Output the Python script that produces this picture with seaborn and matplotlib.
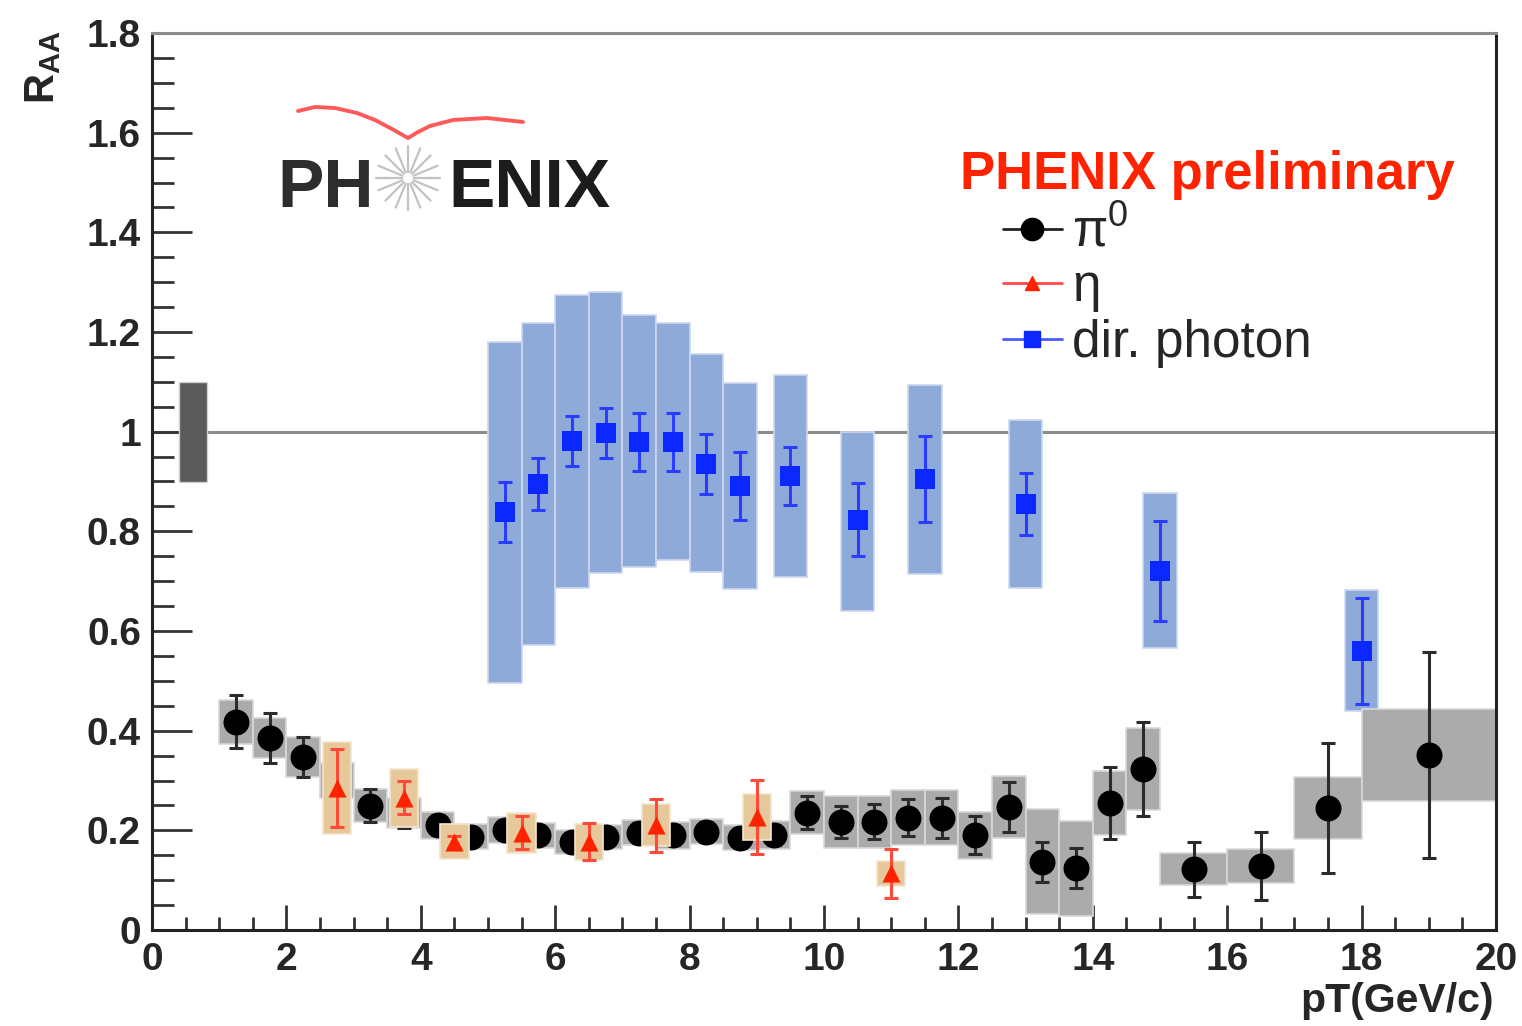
import numpy as np
import pandas as pd
import matplotlib
matplotlib.use('Agg')
import matplotlib.pyplot as plt
from matplotlib.lines import Line2D
from matplotlib.ticker import MultipleLocator, FuncFormatter
import seaborn as sns

# --- pi0 R_AA
pi0_pt = [1.25, 1.75, 2.25, 2.75, 3.25, 3.75, 4.25, 4.75, 5.25, 5.75, 6.25, 6.75,
          7.25, 7.75, 8.25, 8.75, 9.25, 9.75, 10.25, 10.75, 11.25, 11.75, 12.25,
          12.75, 13.25, 13.75, 14.25, 14.75, 15.5, 16.5, 17.5, 19.0]
pi0_raa = [0.418, 0.385, 0.347, 0.300, 0.249, 0.235, 0.210, 0.187, 0.200, 0.190,
           0.177, 0.187, 0.195, 0.190, 0.197, 0.185, 0.190, 0.235, 0.217, 0.217,
           0.225, 0.225, 0.190, 0.247, 0.137, 0.124, 0.255, 0.323, 0.122, 0.128,
           0.245, 0.351]
pi0_stat = [0.053, 0.050, 0.040, 0.035, 0.033, 0.030, 0.020, 0.018, 0.020, 0.018,
            0.018, 0.018, 0.020, 0.020, 0.020, 0.020, 0.020, 0.033, 0.032, 0.035,
            0.037, 0.040, 0.038, 0.050, 0.040, 0.040, 0.073, 0.095, 0.055, 0.068,
            0.130, 0.207]
pi0_sys = [0.044, 0.040, 0.040, 0.036, 0.033, 0.030, 0.027, 0.025, 0.026, 0.025,
           0.024, 0.024, 0.025, 0.027, 0.025, 0.025, 0.028, 0.043, 0.052, 0.052,
           0.055, 0.055, 0.047, 0.062, 0.105, 0.095, 0.065, 0.082, 0.032, 0.034,
           0.063, 0.092]
pi0_binw = [0.5] * 28 + [1.0, 1.0, 1.0, 2.0]

# --- eta R_AA
eta_pt = [2.75, 3.75, 4.5, 5.5, 6.5, 7.5, 9.0, 11.0]
eta_raa = [0.285, 0.265, 0.177, 0.195, 0.177, 0.210, 0.227, 0.114]
eta_stat = [0.078, 0.033, 0.012, 0.033, 0.037, 0.053, 0.074, 0.049]
eta_sys = [0.093, 0.059, 0.035, 0.040, 0.036, 0.042, 0.046, 0.025]

# --- direct photon R_AA
gam_pt = [5.25, 5.75, 6.25, 6.75, 7.25, 7.75, 8.25, 8.75, 9.5, 10.5, 11.5, 13.0, 15.0, 18.0]
gam_raa = [0.839, 0.895, 0.981, 0.997, 0.980, 0.980, 0.935, 0.891, 0.911, 0.823,
           0.905, 0.855, 0.720, 0.560]
gam_stat = [0.060, 0.053, 0.050, 0.050, 0.058, 0.058, 0.060, 0.068, 0.058, 0.073,
            0.086, 0.063, 0.100, 0.106]
gam_sys_hi = [1.180, 1.218, 1.274, 1.280, 1.234, 1.218, 1.156, 1.098, 1.114, 1.000,
              1.094, 1.024, 0.877, 0.682]
gam_sys_lo = [0.496, 0.572, 0.686, 0.716, 0.729, 0.742, 0.718, 0.684, 0.708, 0.640,
              0.714, 0.686, 0.566, 0.440]

# normalisation uncertainty box at R_AA = 1
norm_pt, norm_halfw, norm_unc = 0.61, 0.21, 0.1

sns.set_style('ticks')
plt.rcParams['font.family'] = ['Liberation Sans', 'DejaVu Sans']
plt.rcParams['font.weight'] = 'bold'
plt.rcParams['mathtext.fontset'] = 'custom'
plt.rcParams['mathtext.rm'] = 'Liberation Sans:regular'
plt.rcParams['mathtext.it'] = 'Liberation Sans:italic:regular'
plt.rcParams['mathtext.bf'] = 'Liberation Sans:bold'

W, H = 1522, 1026
fig = plt.figure(figsize=(W / 100, H / 100), dpi=100)
ax = fig.add_axes([152 / W, 1 - 930 / H, (1496 - 152) / W, (930 - 33) / H])

pi0 = pd.DataFrame({'pt': pi0_pt, 'raa': pi0_raa, 'stat': pi0_stat, 'sys': pi0_sys, 'w': pi0_binw})
eta = pd.DataFrame({'pt': eta_pt, 'raa': eta_raa, 'stat': eta_stat, 'sys': eta_sys})
gam = pd.DataFrame({'pt': gam_pt, 'raa': gam_raa, 'stat': gam_stat, 'hi': gam_sys_hi, 'lo': gam_sys_lo})

ax.axhline(1.0, color='#8c8c8c', lw=2.2, zorder=0.5)
ax.bar([norm_pt], [2 * norm_unc], bottom=[1 - norm_unc], width=2 * norm_halfw,
       color='#5a5a5a', edgecolor='#d0d0d0', lw=1, zorder=1)

# direct photon
ax.bar(gam['pt'], gam['hi'] - gam['lo'], bottom=gam['lo'], width=0.5,
       color='#8eaad8', edgecolor='#cdd8ef', lw=1.2, zorder=1.5)
ax.errorbar(gam['pt'], gam['raa'], yerr=gam['stat'], fmt='none', ecolor='#2a3cff',
            elinewidth=2.2, capsize=4.7, capthick=2.2, zorder=3)
sns.scatterplot(data=gam, x='pt', y='raa', marker='s', s=210, color='#0a28ff',
                linewidth=0, zorder=3.5, ax=ax, legend=False)

# pi0
ax.bar(pi0['pt'], 2 * pi0['sys'], bottom=pi0['raa'] - pi0['sys'], width=pi0['w'],
       color='#ababab', edgecolor='#d8d8d8', lw=1.2, zorder=2)
ax.errorbar(pi0['pt'], pi0['raa'], yerr=pi0['stat'], fmt='none', ecolor='#2b2b2b',
            elinewidth=2.2, capsize=4.7, capthick=2.2, zorder=4)
sns.scatterplot(data=pi0, x='pt', y='raa', marker='o', s=350, color='black',
                linewidth=0, zorder=5, ax=ax, legend=False)

# eta
ax.bar(eta['pt'], 2 * eta['sys'], bottom=eta['raa'] - eta['sys'], width=0.42,
       color='#e6c89b', edgecolor='#f5e6cf', lw=1.2, zorder=6)
ax.errorbar(eta['pt'], eta['raa'], yerr=eta['stat'], fmt='none', ecolor='#ff4a3a',
            elinewidth=2.2, capsize=4.7, capthick=2.2, zorder=7)
sns.scatterplot(data=eta, x='pt', y='raa', marker='^', s=170, color='#ff2200',
                linewidth=0, zorder=8, ax=ax, legend=False)

# axes styling (ROOT like)
ax.set_xlim(0, 20)
ax.set_ylim(0, 1.8)
ax.xaxis.set_major_locator(MultipleLocator(2))
ax.xaxis.set_minor_locator(MultipleLocator(0.5))
ax.yaxis.set_major_locator(MultipleLocator(0.2))
ax.yaxis.set_minor_locator(MultipleLocator(0.05))
ax.yaxis.set_major_formatter(FuncFormatter(lambda v, p: '%g' % round(v, 2)))
ax.tick_params(axis='x', which='major', direction='in', length=18, width=2,
               labelsize=28, pad=9, color='#333333')
ax.tick_params(axis='x', which='minor', direction='in', length=9.5, width=2, color='#333333')
ax.tick_params(axis='y', which='major', direction='in', length=29, width=2,
               labelsize=28, pad=8, color='#333333')
ax.tick_params(axis='y', which='minor', direction='in', length=16, width=2, color='#333333')
for s in ['left', 'bottom', 'right']:
    ax.spines[s].set_color('#222222')
    ax.spines[s].set_linewidth(2.2)
ax.spines['top'].set_color('#8c8c8c')
ax.spines['top'].set_linewidth(2.2)

ax.set_xlabel('pT(GeV/c)', fontsize=29.5, fontweight='bold', loc='right')
ax.xaxis.set_label_coords(0.998, -0.058)
ax.set_ylabel(r'$\mathbf{R}_{\mathbf{AA}}$', fontsize=30, loc='top')
ax.yaxis.set_label_coords(-0.066, 1.003)

ax.text(0.601, 0.826, 'PHENIX preliminary', transform=ax.transAxes, color='#ff2200',
        fontsize=38, fontweight='bold', ha='left', va='baseline')

handles = [Line2D([], [], color='#222222', lw=2, marker='o', ms=16, mfc='black', mec='black'),
           Line2D([], [], color='#ff4a4a', lw=2, marker='^', ms=10, mfc='#ff2200', mec='#ff2200'),
           Line2D([], [], color='#4a5aff', lw=2, marker='s', ms=12, mfc='#0a28ff', mec='#0a28ff')]
ax.legend(handles, [r'$\mathrm{\pi}^{0}$', r'$\mathrm{\eta}$', 'dir. photon'],
          loc='upper left', bbox_to_anchor=(0.633, 0.805), frameon=False,
          prop={'size': 37, 'weight': 'normal'}, handlelength=1.15,
          handletextpad=0.2, labelspacing=0.1, borderpad=0, borderaxespad=0)

# PHENIX logo
def fpx(x, y):
    return x / W, 1 - y / H

fig.text(*fpx(277, 207), 'PH', fontsize=50, fontweight='bold', color='#2d2d2d',
         ha='left', va='baseline')
fig.text(*fpx(448, 207), 'ENIX', fontsize=50, fontweight='bold', color='#1c1c1c',
         ha='left', va='baseline')
cx, cy = 408, 178
for a in np.linspace(0, 2 * np.pi, 16, endpoint=False):
    x0, y0 = fpx(cx + 6 * np.cos(a), cy + 6 * np.sin(a))
    x1, y1 = fpx(cx + 32 * np.cos(a), cy + 32 * np.sin(a))
    fig.add_artist(Line2D([x0, x1], [y0, y1], transform=fig.transFigure,
                          color='#c2c2c2', lw=1.6))
sw = [(298, 111), (315, 107), (335, 108), (357, 113), (375, 120), (392, 129),
      (408, 138), (418, 132), (430, 126), (453, 120), (487, 118), (523, 122)]
fig.add_artist(Line2D([fpx(*p)[0] for p in sw], [fpx(*p)[1] for p in sw],
                      transform=fig.transFigure, color='#ff5a5a', lw=2.8,
                      solid_capstyle='round', solid_joinstyle='round'))

fig.savefig('out.png', dpi=100)
